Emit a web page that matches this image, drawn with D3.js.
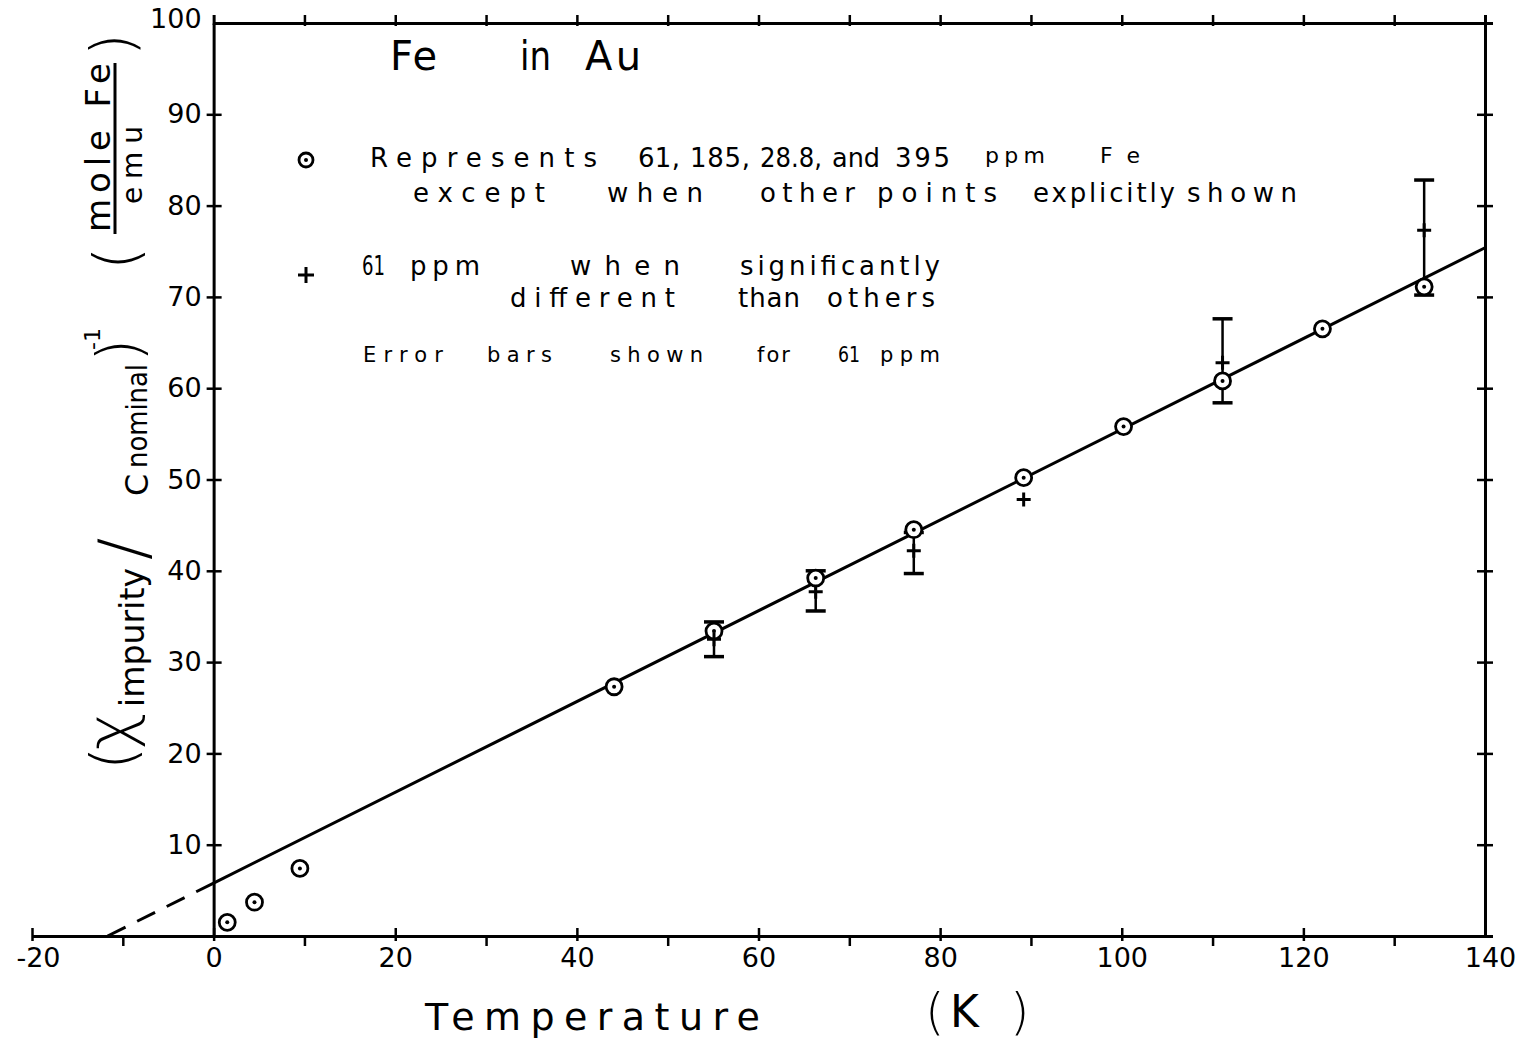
<!DOCTYPE html>
<html><head><meta charset="utf-8">
<script src="https://cdn.jsdelivr.net/npm/d3@7"></script>
<style>
body{margin:0;background:#fff}
svg{display:block}
text{font-family:"DejaVu Sans",sans-serif;fill:#000}
</style>
</head><body>
<svg id="chart" width="1517" height="1044"></svg>
<script>
// Inverse impurity susceptibility of Fe in Au versus temperature
const tempAll   = [1.5, 4.5, 9.5, 44.1, 55.1, 66.3, 77.1, 89.2, 100.2, 111.1, 122.1, 133.3];
const invChiAll = [1.5, 3.7, 7.4, 27.3, 33.4, 39.2, 44.5, 50.2, 55.8, 60.8, 66.5, 71.1];

// 61 ppm sample where it departs from the others, with its error bars
const temp61    = [55.1, 66.3, 77.1, 89.2, 111.1, 133.3];
const invChi61  = [32.5, 37.7, 42.2, 47.8, 62.8, 77.3];
const err61Low  = [30.6, 35.6, 39.7, null, 58.4, 70.2];
const err61High = [34.4, 40.0, 44.2, null, 67.6, 82.8];

// Curie-Weiss straight-line fit
const fitIntercept = 5.8;
const fitSlope = 0.497;

const xMajorTicks = [-20, 0, 20, 40, 60, 80, 100, 120, 140];
const xMinorTicks = [-10, 10, 30, 50, 70, 90, 110, 130];
const xTopTicks   = [10, 20, 30, 40, 50, 60, 70, 80, 90, 100, 110, 120, 130];
const yTickValues = [10, 20, 30, 40, 50, 60, 70, 80, 90, 100];

const svg = d3.select("#chart");
const x = d3.scaleLinear().domain([-20, 140]).range([32, 1485]);
const y = d3.scaleLinear().domain([0, 100]).range([936, 23]);
const xBox = x.copy().domain([0, 140]).range([x(0), x(140)]);
const SW = 3;

function styleAxis(g) {
  g.select(".domain").attr("stroke", "#000").attr("stroke-width", SW);
  g.selectAll(".tick line").attr("stroke", "#000").attr("stroke-width", 2.5);
  g.selectAll(".tick text").attr("font-size", 27).attr("fill", "#000")
    .style("font-family", '"DejaVu Sans",sans-serif');
}

// bottom axis: labelled major ticks crossing the line
const gBottom = svg.append("g").attr("transform", `translate(0,${y(0)})`)
  .call(d3.axisBottom(x).tickValues(xMajorTicks).tickSizeOuter(0).tickSize(0)
    .tickPadding(12).tickFormat(d => d < 0 ? "-" + Math.abs(d) : String(d)))
  .call(styleAxis);
gBottom.selectAll(".tick line").attr("y1", -8).attr("y2", 5);
gBottom.selectAll(".tick text").attr("dx", d => d === 140 ? 5 : d === -20 ? 6 : 0);
gBottom.selectAll(".tick").filter(d => d === 140).select("line").remove();
// bottom minor ticks
const gBottomMinor = svg.append("g").attr("transform", `translate(0,${y(0)})`)
  .call(d3.axisBottom(x).tickValues(xMinorTicks).tickSizeOuter(0).tickSize(10).tickFormat(""))
  .call(styleAxis);
gBottomMinor.select(".domain").remove();

// top axis of the frame
const gTop = svg.append("g").attr("transform", `translate(0,${y(100)})`)
  .call(d3.axisTop(xBox).tickValues(xTopTicks).tickSizeOuter(0).tickSize(8).tickFormat(""))
  .call(styleAxis);
gTop.selectAll(".tick line").attr("y1", 3);

// left axis with labels
const gLeft = svg.append("g").attr("transform", `translate(${x(0)},0)`)
  .call(d3.axisLeft(y).tickValues(yTickValues).tickSizeOuter(0).tickSize(0).tickPadding(12))
  .call(styleAxis);
gLeft.selectAll(".tick line").attr("x1", -7).attr("x2", 8);
gLeft.selectAll(".tick").filter(d => d === 100).select("line").remove();
gLeft.selectAll(".tick").filter(d => d === 100).select("text").attr("dy", "0.15em");

// right axis of the frame
const gRight = svg.append("g").attr("transform", `translate(${x(140)},0)`)
  .call(d3.axisRight(y).tickValues(yTickValues.filter(v => v < 100)).tickSizeOuter(0).tickSize(8).tickFormat(""))
  .call(styleAxis);
gRight.selectAll(".tick line").attr("x1", -8);

// fit line, solid over the measured range, dashed extrapolation to the intercept
const fit = t => fitIntercept + fitSlope * t;
const line = d3.line().x(d => x(d[0])).y(d => y(d[1]));
svg.append("path").datum([[0, fit(0)], [140, fit(140)]])
  .attr("d", line).attr("fill", "none").attr("stroke", "#000").attr("stroke-width", 3);
const tZero = -fitIntercept / fitSlope;
svg.append("path").datum([[tZero, 0], [0, fit(0)]])
  .attr("d", line).attr("fill", "none").attr("stroke", "#000").attr("stroke-width", 3)
  .attr("stroke-dasharray", "20 13");

// error bars for the 61 ppm sample
const errData = temp61.map((t, i) => ({t, lo: err61Low[i], hi: err61High[i]})).filter(d => d.lo !== null);
const gErr = svg.append("g").attr("stroke", "#000").attr("stroke-width", 2.5);
gErr.selectAll("line.bar").data(errData).join("line")
  .attr("x1", d => x(d.t)).attr("x2", d => x(d.t))
  .attr("y1", d => y(d.lo)).attr("y2", d => y(d.hi));
gErr.selectAll("line.lo").data(errData).join("line")
  .attr("x1", d => x(d.t) - 10).attr("x2", d => x(d.t) + 10)
  .attr("y1", d => y(d.lo)).attr("y2", d => y(d.lo)).attr("stroke-width", 3.5);
gErr.selectAll("line.hi").data(errData).join("line")
  .attr("x1", d => x(d.t) - 10).attr("x2", d => x(d.t) + 10)
  .attr("y1", d => y(d.hi)).attr("y2", d => y(d.hi)).attr("stroke-width", 3.5);

// circled-dot markers: all concentrations
function circleDot(g, cx, cy, r) {
  g.append("circle").attr("cx", cx).attr("cy", cy).attr("r", r)
    .attr("fill", "#fff").attr("stroke", "#000").attr("stroke-width", 2.8);
  g.append("circle").attr("cx", cx).attr("cy", cy).attr("r", 2).attr("fill", "#000");
}
const gPts = svg.append("g");
tempAll.forEach((t, i) => circleDot(gPts, x(t), y(invChiAll[i]), 8));

// plus markers: 61 ppm
function plus(g, cx, cy, s) {
  g.append("path").attr("d", `M${cx - s},${cy}H${cx + s}M${cx},${cy - s}V${cy + s}`)
    .attr("stroke", "#000").attr("stroke-width", 3).attr("fill", "none");
}
temp61.forEach((t, i) => plus(gPts, x(t), y(invChi61[i]), 7));

// fit a text element into a given run length: widen by letter spacing,
// narrow by compressing the glyphs
function fitLength(sel, len) {
  const natural = sel.node().getComputedTextLength();
  sel.attr("textLength", len)
    .attr("lengthAdjust", natural > len ? "spacingAndGlyphs" : "spacing");
  return sel;
}
function word(t, x0, x1, yb, size) {
  const s = svg.append("text").attr("x", x0).attr("y", yb).attr("font-size", size).text(t);
  return fitLength(s, x1 - x0);
}
function vword(t, xb, y0, y1, size, weight) {
  // text running upward, baseline on the right side
  const s = svg.append("text").attr("transform", `translate(${xb},${y0}) rotate(-90)`)
    .attr("font-size", size).attr("font-weight", weight || 400).text(t);
  if (y1 !== null) fitLength(s, y0 - y1);
  return s;
}

// title
word("Fe", 390, 437, 70, 40);
word("in", 520, 551, 70, 40);
word("Au", 585, 641, 70, 40);

// legend
circleDot(svg, 306, 160, 7);
[["Represents", 370, 597], ["61,", 638, 680], ["185,", 690, 750], ["28.8,", 760, 822],
 ["and", 832, 880], ["395", 895, 950]].forEach(w => word(w[0], w[1], w[2], 167, 26));
word("ppm", 985, 1045, 163, 22);
word("Fe", 1100, 1140, 163, 22);
[["except", 413, 545], ["when", 607, 703], ["other", 760, 855], ["points", 877, 997],
 ["explicitly", 1033, 1175], ["shown", 1187, 1297]].forEach(w => word(w[0], w[1], w[2], 202, 26));
plus(svg, 306, 275, 8);
[["61", 362, 385], ["ppm", 410, 480], ["when", 570, 680], ["significantly", 740, 940]]
  .forEach(w => word(w[0], w[1], w[2], 275, 26));
[["different", 510, 675], ["than", 738, 800], ["others", 827, 935]]
  .forEach(w => word(w[0], w[1], w[2], 307, 26));
[["Error", 363, 443], ["bars", 487, 552], ["shown", 610, 703], ["for", 757, 790],
 ["61", 838, 860], ["ppm", 880, 940]].forEach(w => word(w[0], w[1], w[2], 362, 21));

// x-axis title
word("Temperature", 425, 760, 1030, 38);
svg.append("text").attr("x", 925).attr("y", 1029).attr("font-size", 50).attr("font-weight", 300).text("(");
svg.append("text").attr("x", 950).attr("y", 1027).attr("font-size", 44).text("K");
svg.append("text").attr("x", 1010).attr("y", 1029).attr("font-size", 50).attr("font-weight", 300).text(")");

// y-axis title: (χ impurity / C nominal)^-1 (mole Fe / emu)
vword("(", 134, 770, null, 60, 300);
vword("χ", 132, 750, 706, 64, 300);
vword("impurity", 144, 707, 568, 34);
vword("/", 146, 560, null, 66, 300);
vword("C", 148, 496, 471, 32);
vword("nominal", 147, 468, 364, 28);
vword(")", 140, 362, null, 60, 300);
vword("-1", 100, 350, null, 22);
vword("(", 137, 270, null, 60, 300);
vword("mole Fe", 110, 232, 63, 34);
svg.append("line").attr("x1", 115).attr("x2", 115).attr("y1", 63).attr("y2", 234)
  .attr("stroke", "#000").attr("stroke-width", 3);
vword("emu", 142, 204, 126, 28);
vword(")", 133, 56, null, 58, 300);
</script>
</body></html>
